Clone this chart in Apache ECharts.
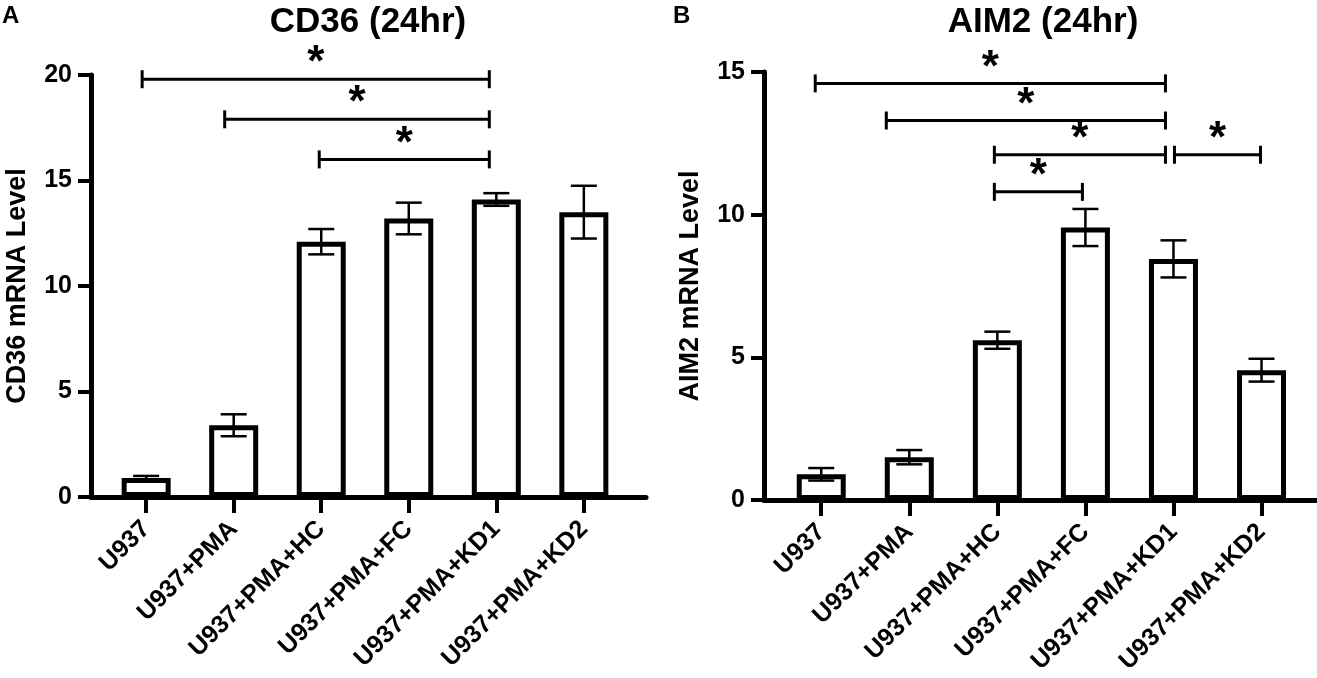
<!DOCTYPE html>
<html>
<head>
<meta charset="utf-8">
<script src="https://cdn.jsdelivr.net/npm/echarts@6/dist/echarts.min.js"></script>
<style>
html,body{margin:0;padding:0;background:#fff;}
#main{width:1317px;height:678px;}
</style>
</head>
<body>
<div id="main"></div>
<script type="text/javascript">
// groups along the x axis
var categories = ['U937', 'U937+PMA', 'U937+PMA+HC', 'U937+PMA+FC', 'U937+PMA+KD1', 'U937+PMA+KD2'];
var catIndex = [0, 1, 2, 3, 4, 5];

// CD36 (24hr)
var cd36Mean = [0.9, 3.4, 12.1, 13.2, 14.1, 13.5];
var cd36Err  = [0.1, 0.52, 0.6, 0.75, 0.3, 1.25];
// [from group, to group, bracket height]
var cd36Sig  = [[0, 4, 19.8], [1, 4, 17.9], [2, 4, 16.0]];

// AIM2 (24hr)
var aim2Mean = [0.9, 1.5, 5.6, 9.55, 8.45, 4.55];
var aim2Err  = [0.22, 0.25, 0.3, 0.65, 0.65, 0.4];
var aim2Sig  = [[0, 4, 14.6], [1, 4, 13.3], [2, 4, 12.1], [4, 5, 12.1], [2, 3, 10.8]];

// pixel nudges of the bracket ends (left end, right end), layout only
var cd36SigNudge = [[-4, -7], [-9, -7], [-2, -7]];
var aim2SigNudge = [[-6, -8], [-23, -8], [-3, -8], [1, -1], [-3, -3]];

var FONT = '"Liberation Sans", Arial, sans-serif';

function pairs(vals){
    return vals.map(function(v, i){ return [catIndex[i], v]; });
}
function errData(mean, err){
    return mean.map(function(v, i){ return [catIndex[i], v, err[i]]; });
}

function renderErr(params, api){
    var x = api.value(0), m = api.value(1), e = api.value(2);
    var top = api.coord([x, m + e]);
    var bot = api.coord([x, m - e]);
    var half = 13;
    var st = {stroke: '#000', lineWidth: 2.5};
    return {
        type: 'group',
        children: [
            {type: 'line', shape: {x1: top[0], y1: top[1], x2: bot[0], y2: bot[1]}, style: st},
            {type: 'line', shape: {x1: top[0] - half, y1: top[1], x2: top[0] + half, y2: top[1]}, style: st},
            {type: 'line', shape: {x1: bot[0] - half, y1: bot[1], x2: bot[0] + half, y2: bot[1]}, style: st}
        ]
    };
}

function makeSigRender(nudge){
    return function(params, api){
        var a = api.coord([api.value(0), api.value(2)]);
        var b = api.coord([api.value(1), api.value(2)]);
        var n = nudge[params.dataIndex];
        var x1 = a[0] + n[0], x2 = b[0] + n[1], y = a[1];
        var st = {stroke: '#000', lineWidth: 3};
        return {
            type: 'group',
            children: [
                {type: 'line', shape: {x1: x1, y1: y, x2: x2, y2: y}, style: st},
                {type: 'line', shape: {x1: x1, y1: y - 9, x2: x1, y2: y + 9}, style: st},
                {type: 'line', shape: {x1: x2, y1: y - 9, x2: x2, y2: y + 9}, style: st},
                {type: 'text', style: {text: '*', x: (x1 + x2) / 2, y: y - 15, align: 'center', verticalAlign: 'middle',
                    fill: '#000', font: 'bold 44px ' + FONT}}
            ]
        };
    };
}

function xAxisOpt(gridIndex, min, max){
    return {
        gridIndex: gridIndex, type: 'value', min: min, max: max,
        axisLine: {show: true, onZero: false, lineStyle: {color: '#000', width: 5}},
        axisTick: {show: true, customValues: catIndex, length: 16, lineStyle: {color: '#000', width: 4}},
        axisLabel: {customValues: catIndex, rotate: 45, margin: 28, color: '#000',
            fontSize: 25, fontWeight: 'bold', fontFamily: FONT,
            formatter: function(v){ return categories[Math.round(v)]; }},
        splitLine: {show: false}
    };
}
function yAxisOpt(gridIndex, max, name){
    return {
        gridIndex: gridIndex, type: 'value', min: 0, max: max, interval: 5,
        name: name, nameLocation: 'middle', nameGap: 60,
        nameTextStyle: {color: '#000', fontSize: 27, fontWeight: 'bold', fontFamily: FONT},
        axisLine: {show: true, onZero: false, lineStyle: {color: '#000', width: 5}},
        axisTick: {show: true, length: 13, lineStyle: {color: '#000', width: 4}},
        axisLabel: {color: '#000', fontSize: 25, fontWeight: 'bold', fontFamily: FONT, margin: 19},
        splitLine: {show: false}
    };
}
function barSeries(idx, mean){
    return {
        type: 'bar', xAxisIndex: idx, yAxisIndex: idx, data: pairs(mean), barWidth: 49,
        itemStyle: {color: '#fff', borderColor: '#000', borderWidth: 5}, z: 2
    };
}

var chart = echarts.init(document.getElementById('main'));
chart.setOption({
    animation: false,
    textStyle: {fontFamily: FONT},
    title: [
        {text: 'A', left: 2, top: 4, padding: 0, textStyle: {fontSize: 24, fontWeight: 'bold', color: '#000'}},
        {text: 'B', left: 673, top: 4, padding: 0, textStyle: {fontSize: 24, fontWeight: 'bold', color: '#000'}},
        {text: 'CD36 (24hr)', left: 368, top: 5, padding: 0, textAlign: 'center', textStyle: {fontSize: 35, fontWeight: 'bold', color: '#000'}},
        {text: 'AIM2 (24hr)', left: 1043, top: 5, padding: 0, textAlign: 'center', textStyle: {fontSize: 35, fontWeight: 'bold', color: '#000'}}
    ],
    grid: [
        {left: 91, top: 75, width: 555, height: 422},
        {left: 764, top: 72, width: 553, height: 428}
    ],
    xAxis: [xAxisOpt(0, -0.63, 5.71), xAxisOpt(1, -0.65, 5.63)],
    yAxis: [yAxisOpt(0, 20, 'CD36 mRNA Level'), yAxisOpt(1, 15, 'AIM2 mRNA Level')],
    series: [
        barSeries(0, cd36Mean),
        {type: 'custom', xAxisIndex: 0, yAxisIndex: 0, data: errData(cd36Mean, cd36Err), renderItem: renderErr, z: 3},
        {type: 'custom', xAxisIndex: 0, yAxisIndex: 0, data: cd36Sig, renderItem: makeSigRender(cd36SigNudge), clip: false, z: 3},
        barSeries(1, aim2Mean),
        {type: 'custom', xAxisIndex: 1, yAxisIndex: 1, data: errData(aim2Mean, aim2Err), renderItem: renderErr, z: 3},
        {type: 'custom', xAxisIndex: 1, yAxisIndex: 1, data: aim2Sig, renderItem: makeSigRender(aim2SigNudge), clip: false, z: 3}
    ]
});
</script>
</body>
</html>
